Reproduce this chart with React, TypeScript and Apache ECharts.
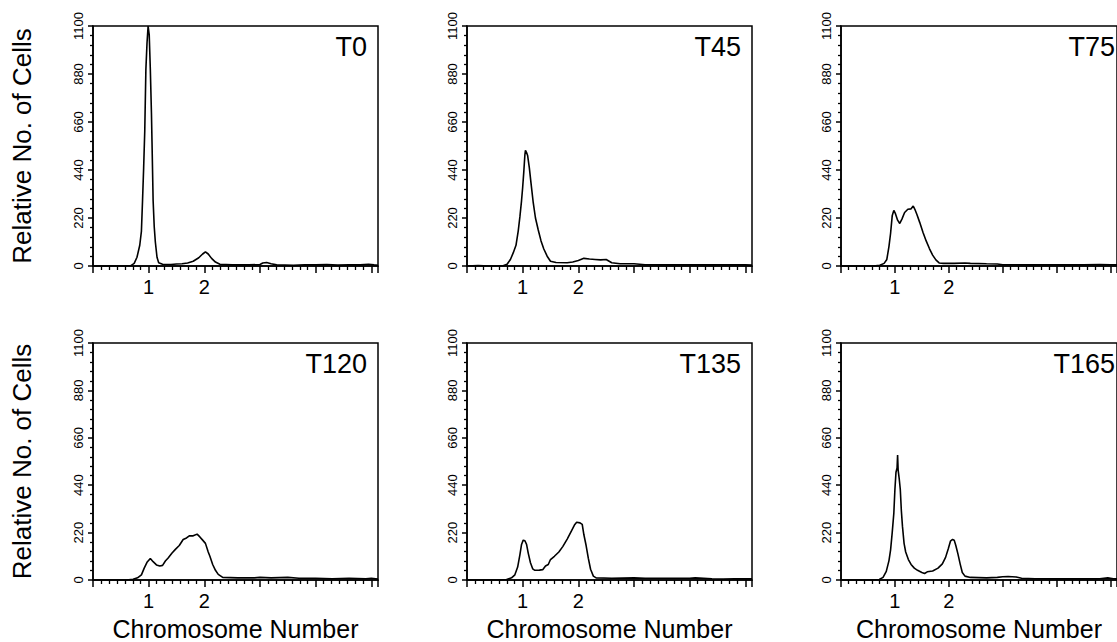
import React, { useEffect, useRef } from "react";
import * as echarts from "echarts";

// ---- data ----
const panelNames = ["T0", "T45", "T75", "T120", "T135", "T165"];
const yTickValues = [0, 220, 440, 660, 880, 1100];
const xLabelledTicks = [1, 2];
const yAxisTitle = "Relative No. of Cells";
const xAxisTitle = "Chromosome Number";

const t0: [number, number][] = [
  [0, 0], [0.3, 0], [0.6, 1], [0.68, 2], [0.74, 12], [0.79, 40], [0.84, 95], [0.87, 160], [0.89, 300],
  [0.91, 450], [0.93, 620], [0.95, 900], [0.97, 1020], [0.99, 1100], [1.01, 1060], [1.03, 900],
  [1.05, 700], [1.06, 570], [1.08, 300], [1.1, 180], [1.12, 110], [1.15, 40], [1.18, 15], [1.25, 8],
  [1.4, 7], [1.5, 9], [1.6, 10], [1.7, 14], [1.8, 22], [1.9, 38], [1.97, 55], [2.02, 65], [2.07, 55],
  [2.13, 35], [2.2, 18], [2.28, 8], [2.5, 5], [2.8, 5], [3.0, 7], [3.05, 14], [3.12, 16], [3.2, 10],
  [3.3, 5], [3.6, 3], [3.8, 6], [4.0, 5], [4.2, 7], [4.4, 4], [4.6, 6], [4.8, 5], [4.95, 8], [5.05, 5], [5.12, 3],
];
const t45: [number, number][] = [
  [0, 0], [0.2, 2], [0.4, 0], [0.65, 1], [0.72, 8], [0.78, 30], [0.83, 60], [0.88, 95], [0.92, 160],
  [0.95, 225], [0.98, 300], [1.0, 360], [1.02, 430], [1.04, 510], [1.05, 530], [1.07, 520], [1.09, 505],
  [1.12, 450], [1.15, 380], [1.19, 290], [1.23, 220], [1.28, 165], [1.33, 115], [1.38, 78], [1.44, 45],
  [1.5, 22], [1.6, 16], [1.8, 15], [1.9, 18], [2.0, 25], [2.1, 35], [2.2, 32], [2.3, 30], [2.4, 28],
  [2.5, 30], [2.6, 15], [2.75, 10], [3.0, 10], [3.2, 6], [3.6, 5], [4.0, 5], [4.5, 5], [5.0, 5], [5.12, 4],
];
const t75: [number, number][] = [
  [0, 0], [0.6, 0], [0.72, 3], [0.8, 12], [0.85, 30], [0.89, 90], [0.92, 150], [0.95, 230], [0.98, 255],
  [1.01, 240], [1.05, 210], [1.09, 195], [1.13, 215], [1.18, 245], [1.24, 260], [1.3, 262], [1.34, 275],
  [1.37, 260], [1.41, 235], [1.46, 200], [1.52, 155], [1.58, 115], [1.64, 80], [1.7, 50], [1.76, 28],
  [1.82, 14], [1.9, 12], [2.1, 12], [2.3, 14], [2.4, 12], [2.7, 10], [2.9, 9], [3.0, 6], [3.5, 5],
  [4.0, 6], [4.5, 5], [4.8, 7], [5.0, 6], [5.12, 5],
];
const t120: [number, number][] = [
  [0, 0], [0.6, 0], [0.72, 3], [0.8, 10], [0.87, 24], [0.92, 55], [0.97, 82], [1.03, 100], [1.08, 85],
  [1.14, 70], [1.2, 65], [1.25, 68], [1.3, 88], [1.35, 102], [1.42, 125], [1.48, 142], [1.55, 160],
  [1.62, 188], [1.68, 195], [1.73, 205], [1.8, 205], [1.87, 213], [1.92, 200], [1.97, 185], [2.02, 170],
  [2.07, 130], [2.1, 110], [2.15, 72], [2.2, 45], [2.25, 26], [2.33, 12], [2.6, 10], [2.9, 10], [3.0, 12],
  [3.2, 10], [3.5, 12], [3.7, 8], [4.0, 8], [4.3, 6], [4.6, 8], [4.9, 6], [5.0, 8], [5.12, 5],
];
const t135: [number, number][] = [
  [0, 0], [0.6, 0], [0.71, 2], [0.8, 10], [0.86, 24], [0.91, 60], [0.95, 117], [0.98, 165], [1.01, 185],
  [1.04, 182], [1.07, 165], [1.1, 125], [1.14, 80], [1.18, 52], [1.22, 45], [1.3, 46], [1.36, 48],
  [1.41, 65], [1.46, 72], [1.5, 95], [1.57, 110], [1.65, 130], [1.72, 155], [1.8, 190], [1.87, 225],
  [1.93, 255], [1.97, 268], [2.03, 265], [2.07, 258], [2.1, 210], [2.14, 160], [2.18, 100], [2.22, 50],
  [2.27, 18], [2.32, 10], [2.6, 8], [3.0, 10], [3.2, 8], [3.6, 8], [4.0, 8], [4.1, 10], [4.4, 6],
  [4.6, 4], [4.8, 6], [5.0, 5], [5.12, 5],
];
const t165: [number, number][] = [
  [0, 0], [0.6, 0], [0.71, 2], [0.78, 12], [0.84, 40], [0.89, 90], [0.92, 140], [0.95, 220], [0.98, 310],
  [1.0, 420], [1.02, 500], [1.04, 520], [1.05, 580], [1.06, 510], [1.08, 470], [1.1, 420], [1.12, 320],
  [1.14, 250], [1.17, 170], [1.2, 130], [1.25, 95], [1.3, 72], [1.36, 55], [1.42, 45], [1.5, 35],
  [1.55, 30], [1.6, 38], [1.7, 42], [1.8, 55], [1.88, 75], [1.94, 105], [1.99, 145], [2.03, 180],
  [2.07, 188], [2.1, 185], [2.13, 160], [2.17, 120], [2.21, 75], [2.25, 35], [2.3, 18], [2.4, 12],
  [2.7, 10], [2.9, 12], [3.0, 15], [3.1, 16], [3.25, 14], [3.35, 8], [3.6, 6], [4.0, 5], [4.5, 5],
  [4.8, 6], [4.95, 10], [5.05, 6], [5.12, 5],
];
const panelData = [t0, t45, t75, t120, t135, t165];

export default function App() {
  const ref = useRef<HTMLDivElement>(null);
  useEffect(() => {
    if (!ref.current) return;
    const chart = echarts.init(ref.current, undefined, { renderer: "svg" });
    const font = "'Liberation Sans', Arial, Helvetica, sans-serif";
    const lefts = [93, 467, 841];
    const tops = [26, 343];
    const heights = [240, 239];
    const W = 285;
    const black = "#000";

    const grids: any[] = [];
    const xAxes: any[] = [];
    const yAxes: any[] = [];
    const series: any[] = [];
    const titles: any[] = [];

    panelNames.forEach((name, i) => {
      const row = Math.floor(i / 3);
      const col = i % 3;
      grids.push({
        left: lefts[col], top: tops[row], width: W, height: heights[row],
        show: true, borderColor: black, borderWidth: 1.5, containLabel: false,
      });
      xAxes.push({
        gridIndex: i, type: "value", min: 0, max: 5.12, interval: 1,
        axisLine: { show: true, onZero: false, lineStyle: { color: black, width: 1.6 } },
        axisTick: { show: true, inside: false, length: 7, lineStyle: { color: black, width: 1.5 } },
        minorTick: { show: true, splitNumber: 7, length: 4, lineStyle: { color: black, width: 1.3 } },
        splitLine: { show: false },
        minorSplitLine: { show: false },
        axisLabel: {
          formatter: (v: number) => (xLabelledTicks.includes(v) ? String(v) : ""),
          fontSize: 20, color: black, margin: 11, fontFamily: font,
          showMaxLabel: false,
        },
        name: row === 1 ? xAxisTitle : "",
        nameLocation: "middle", nameGap: 36,
        nameTextStyle: { fontSize: 25, color: black, fontFamily: font },
      });
      yAxes.push({
        gridIndex: i, type: "value", min: 0, max: 1100, interval: 220,
        axisLine: { show: true, lineStyle: { color: black, width: 1.6 } },
        axisTick: { show: true, inside: false, length: 5, lineStyle: { color: black, width: 1.5 } },
        minorTick: { show: true, splitNumber: 5, length: 3, lineStyle: { color: black, width: 1.3 } },
        splitLine: { show: false },
        minorSplitLine: { show: false },
        axisLabel: {
          rotate: 90, fontSize: 13, color: black, margin: 8, fontFamily: font,
          formatter: (v: number) => (yTickValues.includes(v) ? String(v) : ""),
        },
        name: col === 0 ? yAxisTitle : "",
        nameLocation: "middle", nameGap: 58,
        nameTextStyle: { fontSize: 26, color: black, fontFamily: font },
      });
      series.push({
        type: "line", xAxisIndex: i, yAxisIndex: i, data: panelData[i],
        showSymbol: false, symbol: "none", smooth: false,
        lineStyle: { color: black, width: 1.6 }, silent: true,
      });
      titles.push({
        text: name,
        right: 1117 - (lefts[col] + W - 11),
        top: tops[row] + 7,
        padding: 0,
        textStyle: { fontSize: 27, fontWeight: "normal", color: black, fontFamily: font },
      });
    });

    chart.setOption({
      animation: false,
      backgroundColor: "#fff",
      title: titles,
      grid: grids,
      xAxis: xAxes,
      yAxis: yAxes,
      series,
    });
    return () => chart.dispose();
  }, []);
  return (
    <div
      ref={ref}
      style={{ position: "absolute", left: 0, top: 0, width: 1117, height: 642, background: "#fff" }}
    />
  );
}
